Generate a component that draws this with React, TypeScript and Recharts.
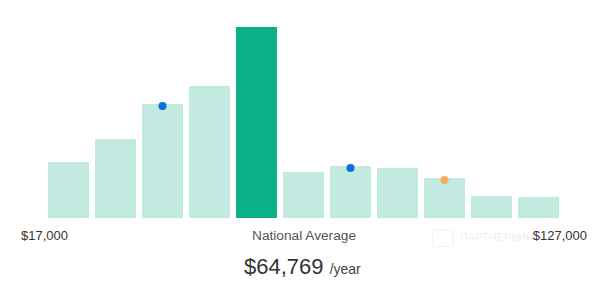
import { ComposedChart, Bar, Cell, Line, XAxis, YAxis } from "recharts";

// salary bins, $10k wide, from $17k to $127k
const categories = [
  "$17k-$27k", "$27k-$37k", "$37k-$47k", "$47k-$57k", "$57k-$67k", "$67k-$77k",
  "$77k-$87k", "$87k-$97k", "$97k-$107k", "$107k-$117k", "$117k-$127k",
];
const counts = [56, 79, 114, 132, 191, 46, 52, 50, 40, 22, 21];
const markers: (number | null)[] = [null, null, 112, null, null, null, 50, null, 38, null, null];
const markerColors: (string | null)[] = [null, null, "#0b6fdd", null, null, null, "#0b6fdd", null, "#f9ab5c", null, null];
const highlightIndex = 4;

const minLabel = "$17,000";
const maxLabel = "$127,000";
const avgLabel = "National Average";
const avgValue = "$64,769";

const data = categories.map((name, i) => ({
  name,
  count: counts[i],
  marker: markers[i],
  color: markerColors[i],
}));

if (typeof document !== "undefined") document.body.style.margin = "0";

const font = "Arial, 'Liberation Sans', sans-serif";

const MarkerDot = (props: any) => {
  const { cx, cy, payload, index } = props;
  if (payload.marker == null || cy == null) return <g key={`m-${index}`} />;
  return <circle key={`m-${index}`} cx={cx} cy={cy} r={4} fill={payload.color} stroke="none" />;
};

const App = () => {
  return (
    <div style={{ position: "relative", width: 600, height: 305, background: "#fff", fontFamily: font }}>
      <ComposedChart
        width={600}
        height={230}
        data={data}
        margin={{ top: 27, right: 38, bottom: 12, left: 45 }}
        barCategoryGap={3}
      >
        <XAxis dataKey="name" hide />
        <YAxis hide domain={[0, 191]} />
        <Bar dataKey="count" isAnimationActive={false}>
          {data.map((d, i) => (
            <Cell key={d.name} fill={i === highlightIndex ? "#0ab187" : "#c3eae0"} />
          ))}
        </Bar>
        <Line
          dataKey="marker"
          stroke="none"
          isAnimationActive={false}
          dot={<MarkerDot />}
          activeDot={false}
          connectNulls={false}
        />
      </ComposedChart>

      {/* faint watermark */}
      <div style={{ position: "absolute", left: 432, top: 229, width: 20, height: 16, border: "1.5px solid #f2f2f2", borderRadius: 3 }} />
      <div style={{ position: "absolute", left: 460, top: 232, fontSize: 11, lineHeight: "11px", color: "#efefef" }}>
        ПАРТНЕРКИН
      </div>

      <div style={{ position: "absolute", left: 21, top: 228.5, fontSize: 13, lineHeight: "13px", color: "#333" }}>
        {minLabel}
      </div>
      <div style={{ position: "absolute", left: 252, top: 229, fontSize: 13.7, lineHeight: "13.7px", color: "#555" }}>
        {avgLabel}
      </div>
      <div style={{ position: "absolute", right: 13, top: 228.5, fontSize: 13, lineHeight: "13px", color: "#333" }}>
        {maxLabel}
      </div>

      <div style={{ position: "absolute", left: 244, top: 256.4, fontSize: 22, lineHeight: "22px", color: "#333", whiteSpace: "nowrap" }}>
        {avgValue} <span style={{ fontSize: 14, color: "#444" }}>/year</span>
      </div>
    </div>
  );
};

export default App;
